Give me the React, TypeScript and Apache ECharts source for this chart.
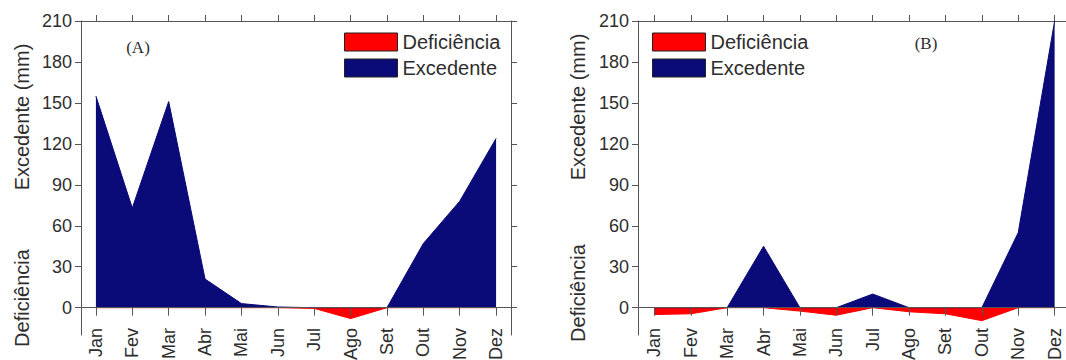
import React, { useEffect, useRef } from "react";
import * as echarts from "echarts";

const months = ["Jan", "Fev", "Mar", "Abr", "Mai", "Jun", "Jul", "Ago", "Set", "Out", "Nov", "Dez"];
const yTicks = [0, 30, 60, 90, 120, 150, 180, 210];

const excedenteA = [155, 73, 151, 21, 3, 0.5, 0, 0, 0, 47, 78, 124];
const deficienciaA = [0, 0, 0, 0, 0, 0, -0.5, -8, 0, 0, 0, 0];

const excedenteB = [0, 0, 0, 45, 0, 0, 10, 0, 0, 0, 55, 210];
const deficienciaB = [-5, -4.5, 0, 0, -2.5, -5.5, 0, -3, -4.5, -9.5, 0, 0];

const NAVY = "#0a0a78";
const RED = "#ff0000";
const AXIS = "#555555";
const TEXT = "#2e2e2e";
const SANS = '"Liberation Sans", Arial, sans-serif';
const SERIF = '"Liberation Serif", "Times New Roman", serif';

const monthIdx = months.map((_, i) => i);

function panel(p: number, left: number, width: number, xMin: number, xMax: number, exc: number[], def: number[], legendLeft: number) {
  const grid = { left, top: 21, width, height: 314, containLabel: false, outerBoundsMode: "none" };
  const xAxes = [
    {
      type: "value", gridIndex: p, min: xMin, max: xMax, position: "bottom", z: 5,
      axisLine: { show: true, onZero: true, lineStyle: { color: AXIS, width: 1 } },
      axisTick: { show: true, customValues: monthIdx, length: 8, inside: false, lineStyle: { color: AXIS } },
      axisLabel: {
        show: true, customValues: monthIdx, rotate: 90, margin: -7, fontSize: 18, fontFamily: SANS, color: TEXT,
        formatter: (v: number) => months[Math.round(v)] ?? "",
      },
      splitLine: { show: false },
    },
    {
      type: "value", gridIndex: p, min: xMin, max: xMax, position: "top",
      axisLine: { show: true, onZero: false, lineStyle: { color: AXIS, width: 1 } },
      axisTick: { show: true, customValues: monthIdx, length: 6, inside: false, lineStyle: { color: AXIS } },
      axisLabel: { show: false },
      splitLine: { show: false },
    },
  ];
  const yAxes = [
    {
      type: "value", gridIndex: p, min: -20, max: 210, position: "left",
      axisLine: { show: true, onZero: false, lineStyle: { color: AXIS, width: 1 } },
      axisTick: { show: true, customValues: yTicks, length: 6, inside: false, lineStyle: { color: AXIS } },
      axisLabel: { show: true, customValues: yTicks, margin: 9, fontSize: 18, fontFamily: SANS, color: TEXT },
      splitLine: { show: false },
    },
    {
      type: "value", gridIndex: p, min: -20, max: 210, position: "right",
      axisLine: { show: true, onZero: false, lineStyle: { color: AXIS, width: 1 } },
      axisTick: { show: true, customValues: yTicks, length: 6, inside: false, lineStyle: { color: AXIS } },
      axisLabel: { show: false },
      splitLine: { show: false },
    },
  ];
  const series = [
    {
      name: "Excedente", type: "line", xAxisIndex: p * 2, yAxisIndex: p * 2, symbol: "none",
      data: exc.map((v, i) => [i, v]),
      lineStyle: { color: NAVY, width: 1 }, itemStyle: { color: NAVY },
      areaStyle: { color: NAVY, opacity: 1 }, z: 2,
    },
    {
      name: "Deficiência", type: "line", xAxisIndex: p * 2, yAxisIndex: p * 2, symbol: "none",
      data: def.map((v, i) => [i, v]),
      lineStyle: { color: RED, width: 1 }, itemStyle: { color: RED },
      areaStyle: { color: RED, opacity: 1 }, z: 2,
    },
  ];
  const legend = {
    left: legendLeft, top: 32, orient: "vertical", padding: 0, itemGap: 6,
    itemWidth: 53, itemHeight: 18, icon: "rect", selectedMode: false,
    data: ["Deficiência", "Excedente"],
    itemStyle: { borderColor: "#222", borderWidth: 1 },
    textStyle: { fontSize: 20, fontFamily: SANS, color: TEXT },
  };
  return { grid, xAxes, yAxes, series, legend };
}

export default function App() {
  const ref = useRef<HTMLDivElement>(null);
  useEffect(() => {
    if (!ref.current) return;
    const chart = echarts.init(ref.current, undefined, { renderer: "svg" });
    const a = panel(0, 81, 430, -0.41, 11.41, excedenteA, deficienciaA, 344);
    const b = panel(1, 638, 433, -0.45, 11.45, excedenteB, deficienciaB, 652);
    const title = (text: string, x: number, y: number) => ({
      type: "text", x, y, rotation: Math.PI / 2, z: 10,
      style: { text, align: "center", verticalAlign: "middle", font: `20px ${SANS}`, fill: TEXT },
    });
    chart.setOption({
      animation: false,
      backgroundColor: "#ffffff",
      grid: [a.grid, b.grid],
      xAxis: [...a.xAxes, ...b.xAxes],
      yAxis: [...a.yAxes, ...b.yAxes],
      series: [...a.series, ...b.series],
      legend: [a.legend, b.legend],
      graphic: [
        { type: "text", x: 138, y: 47, z: 10, style: { text: "(A)", align: "center", verticalAlign: "middle", font: `17px ${SERIF}`, fill: TEXT } },
        { type: "text", x: 926, y: 43, z: 10, style: { text: "(B)", align: "center", verticalAlign: "middle", font: `17px ${SERIF}`, fill: TEXT } },
        title("Excedente (mm)", 22, 117),
        title("Deficiência", 22, 298),
        title("Excedente (mm)", 578, 107),
        title("Deficiência", 578, 293),
      ],
    });
    return () => chart.dispose();
  }, []);
  return <div ref={ref} style={{ position: "fixed", left: 0, top: 0, width: 1066, height: 360 }} />;
}
